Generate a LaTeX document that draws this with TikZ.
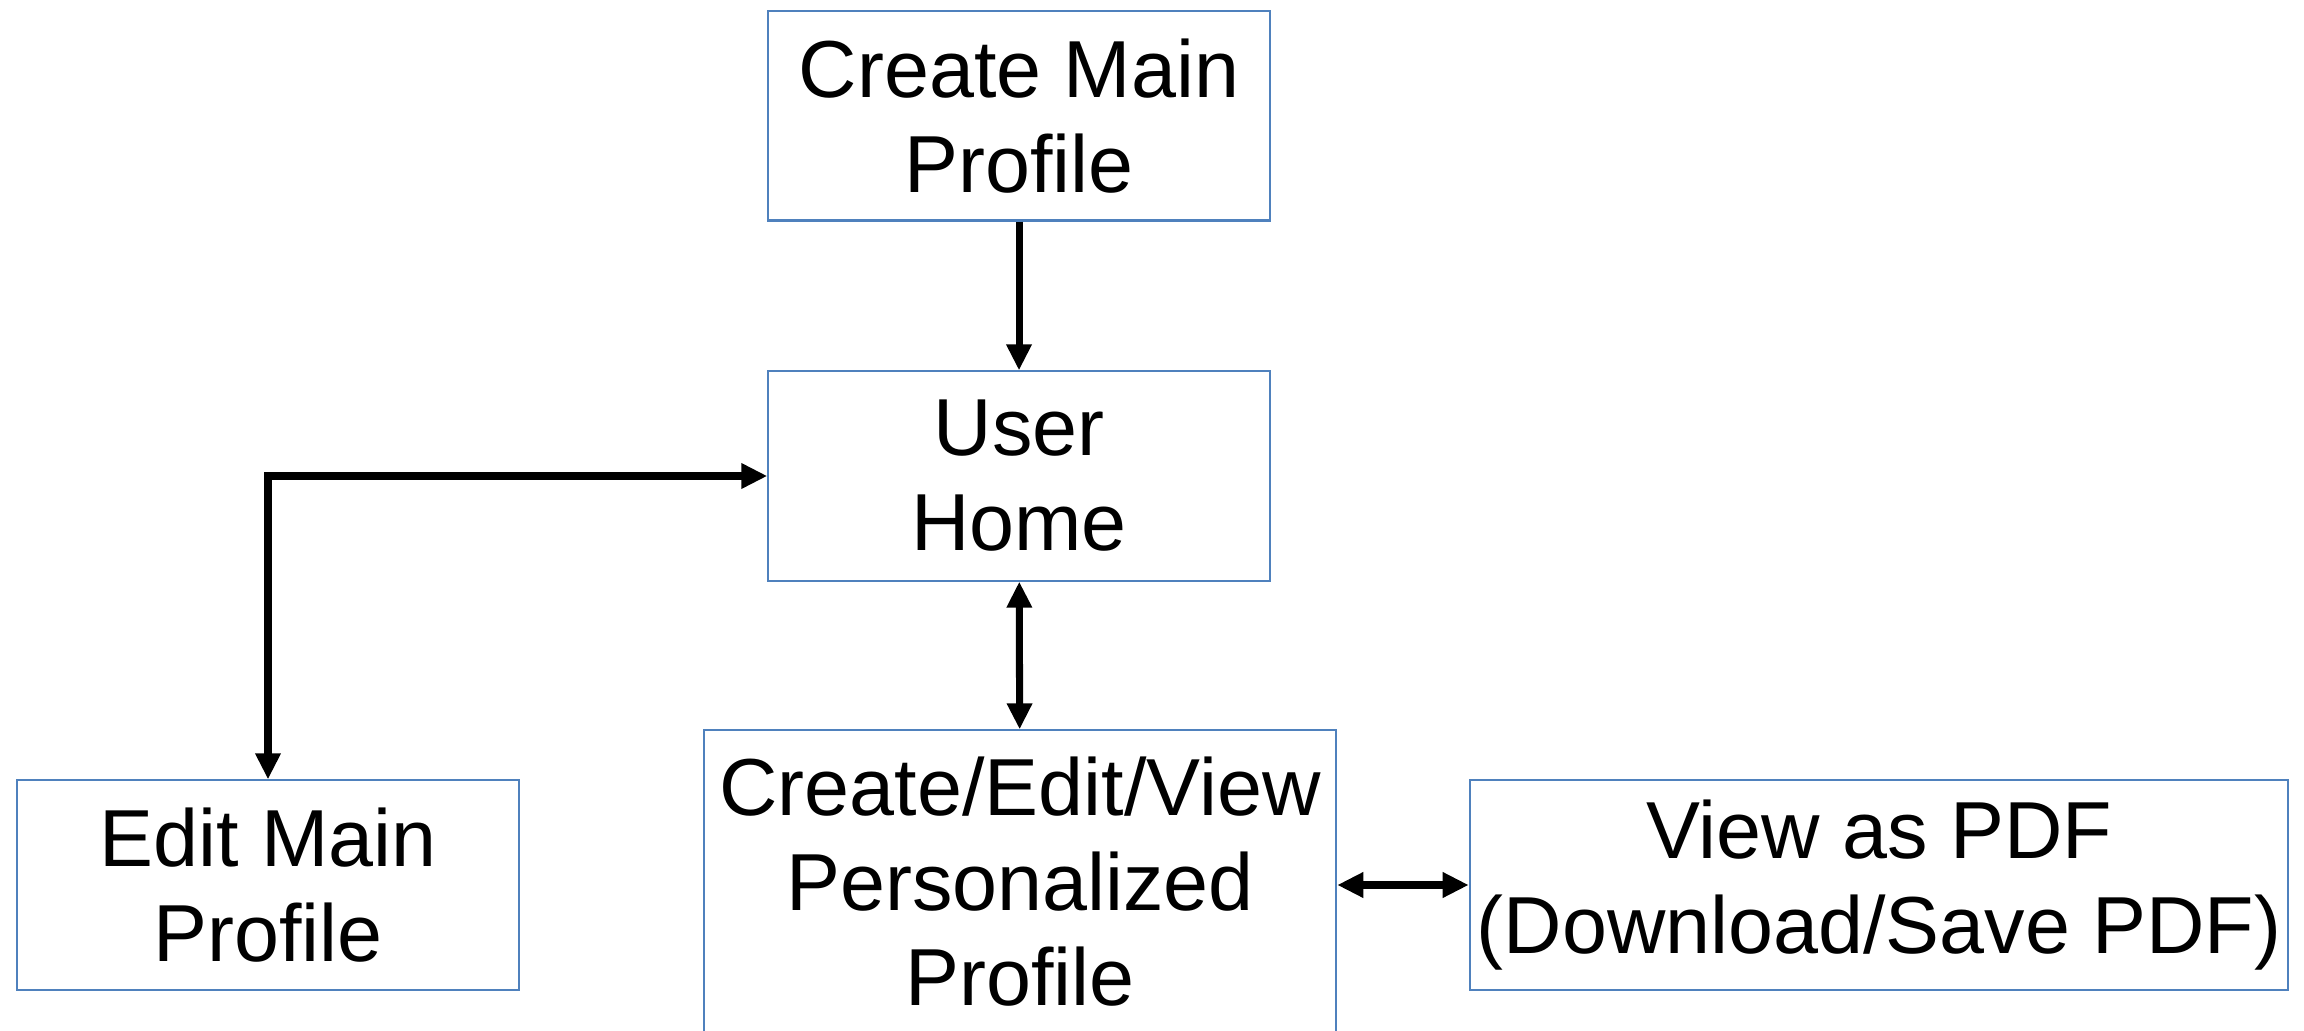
\documentclass[tikz,border=0pt]{standalone}
\usepackage{fontspec}
\setmainfont{Liberation Sans}
\usetikzlibrary{arrows.meta}
\definecolor{boxblue}{HTML}{4F81BD}
\tikzset{pbox/.style={
  draw=boxblue,
  line width=0.6pt,
  align=center,
  inner sep=0pt,
  minimum height=2.09cm,
  font=\fontsize{23}{27}\selectfont
}}
\tikzset{flow/.style={
  line width=2pt,
  -{Triangle[length=0.26cm,width=0.24cm]}
}}
\tikzset{both/.style={
  flow,
  {Triangle[length=0.26cm,width=0.24cm]}-{Triangle[length=0.26cm,width=0.24cm]}
}}

\begin{document}
\begin{tikzpicture}[x=0.01cm,y=-0.01cm]
    \useasboundingbox (0,0) rectangle (2304,1031);
    \clip (0,0) rectangle (2304,1031);
    \node[pbox,minimum width=5.01cm] (cmp) at (1019,116) {Create Main\\Profile};
    \node[pbox,minimum width=5.01cm] (home) at (1019,476) {User\\Home};
    \node[pbox,minimum width=5.01cm] (emp) at (268,885) {Edit Main\\Profile};
    \node[pbox,minimum width=6.32cm,minimum height=3.03cm] (cev) at (1020,882)
      {Create/Edit/View\\Personalized\\Profile};
    \node[pbox,minimum width=8.18cm] (pdf) at (1879,885)
      {View as PDF\\(Download/Save PDF)};
    \draw[flow] (cmp) -- (home);
    \draw[both] (emp.north) |- (home.west);
    \draw[both] (home) -- (cev);
    \draw[both] (cev.east |- pdf.west) -- (pdf.west);
\end{tikzpicture}
\end{document}
